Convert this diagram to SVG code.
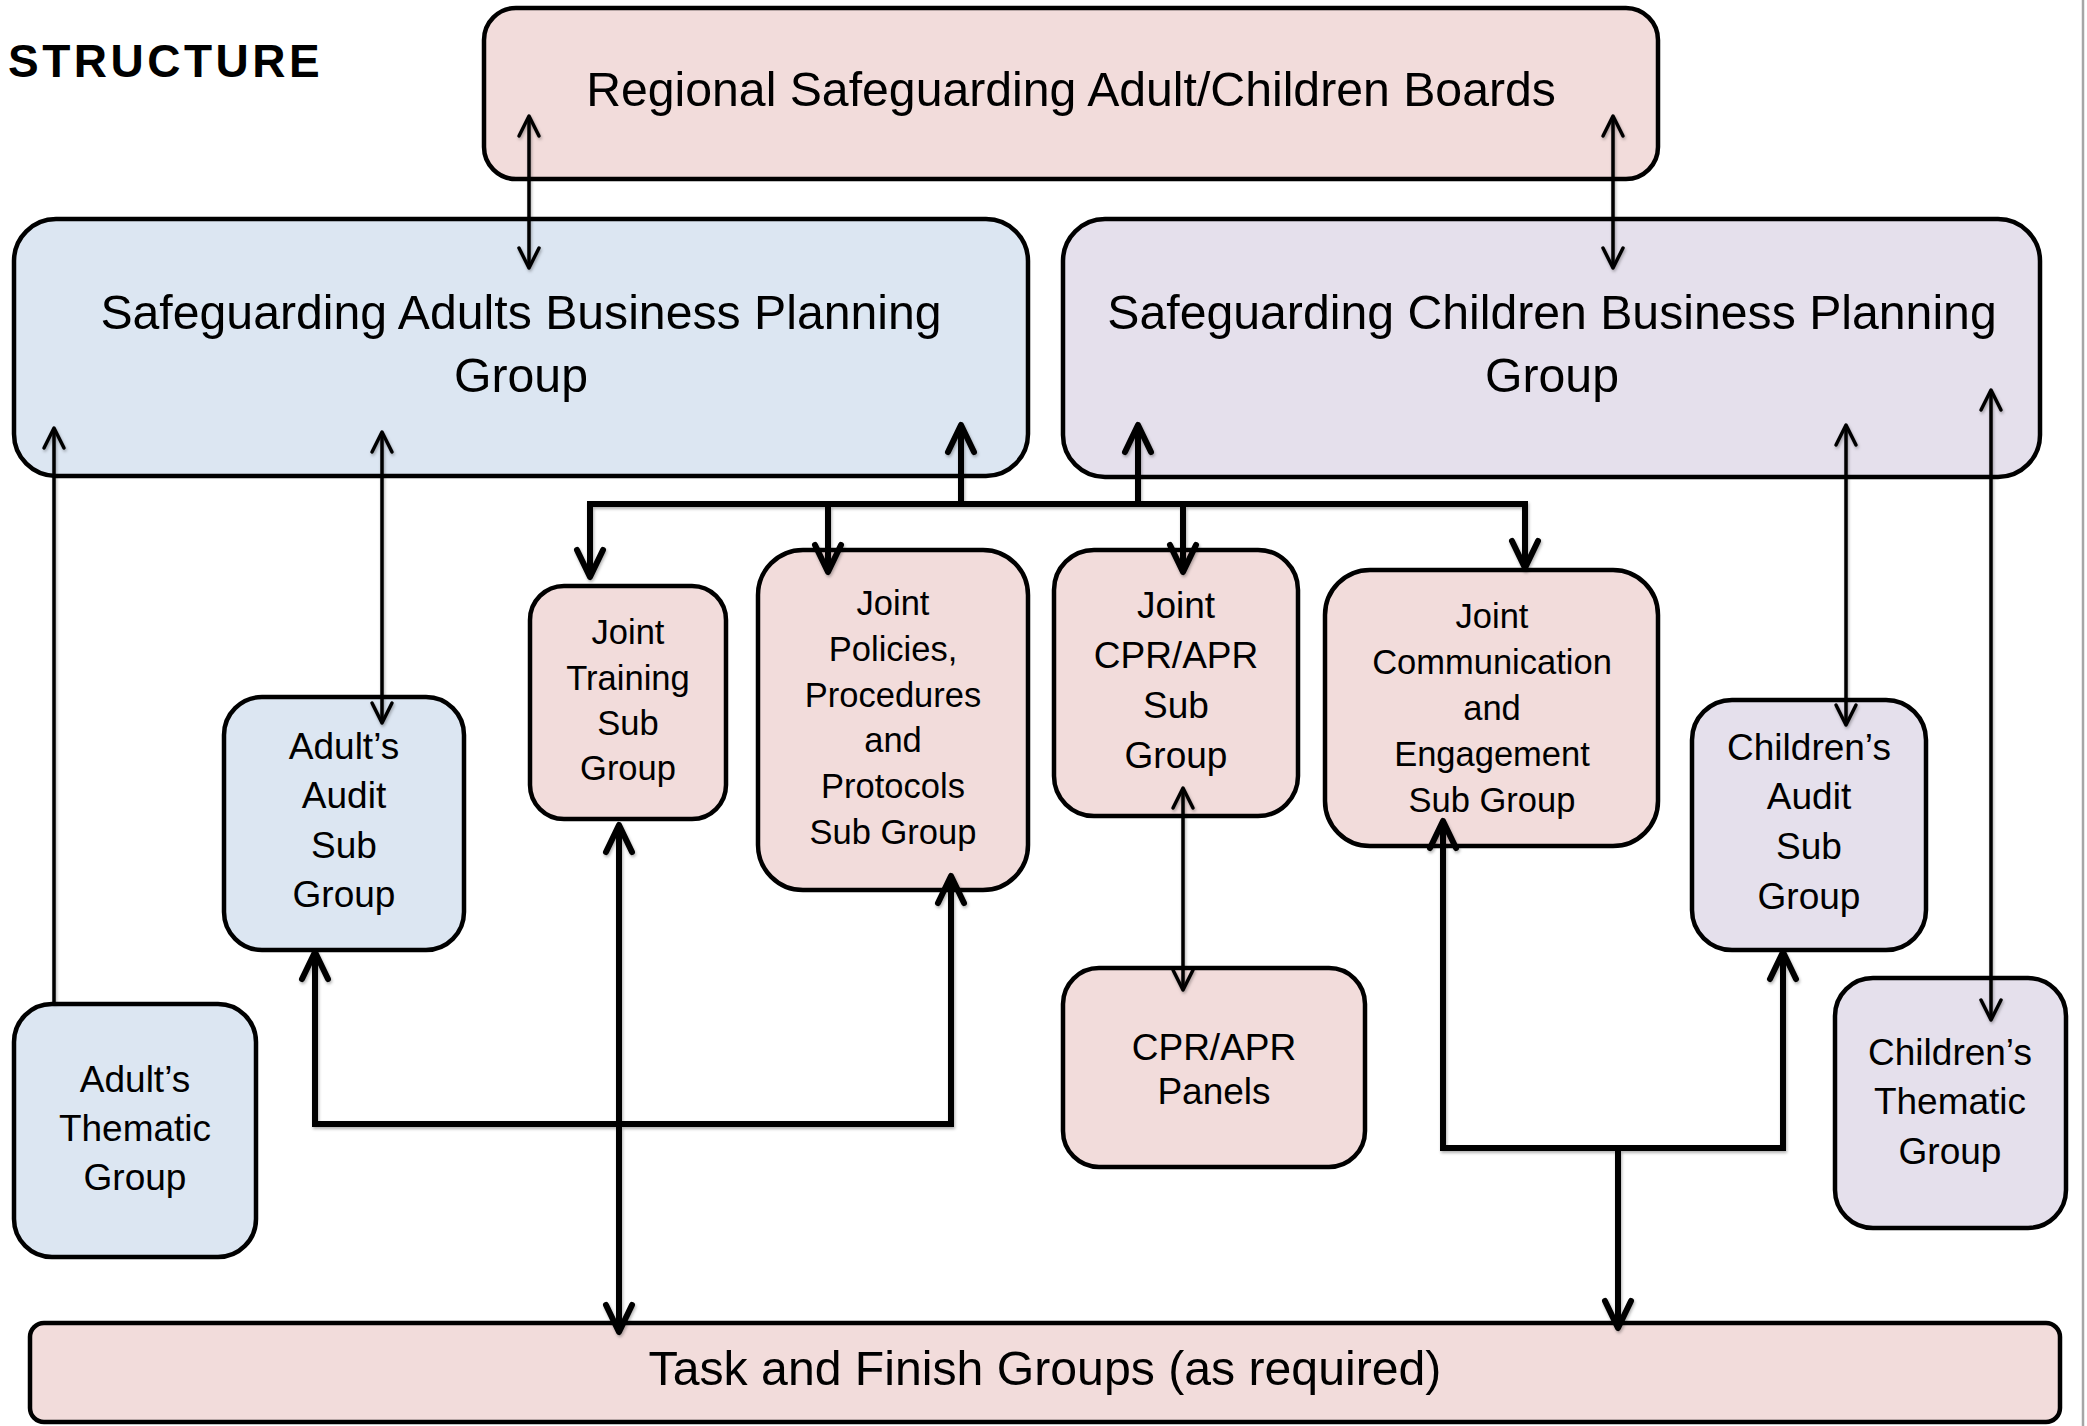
<svg xmlns="http://www.w3.org/2000/svg" width="2087" height="1426" viewBox="0 0 2087 1426">
<defs>
<style>
.box{stroke:#000;stroke-width:4.5}
.pink{fill:#F2DCDB}
.blue{fill:#DCE6F2}
.purple{fill:#E5E0EC}
.t{font-family:"Liberation Sans",Arial,Helvetica,sans-serif;fill:#000;text-anchor:middle}
.big{font-size:48.2px}
.mid{font-size:37px}
.sm{font-size:34.5px}
.thin{fill:none;stroke:#000;stroke-width:3.5;marker-start:url(#thinHead);marker-end:url(#thinHead)}
.thick{fill:none;stroke:#000;stroke-width:6;stroke-linejoin:miter;marker-start:url(#thickHead);marker-end:url(#thickHead)}
.endonly{marker-start:none}
</style>
<marker id="thinHead" markerUnits="userSpaceOnUse" viewBox="-26 -16 32 32" markerWidth="32" markerHeight="32" refX="0" refY="0" orient="auto-start-reverse" overflow="visible">
<path d="M-20,-10 L0,0 L-20,10" fill="none" stroke="#000" stroke-width="3.5" stroke-linecap="round" stroke-linejoin="round"/>
</marker>
<marker id="thickHead" markerUnits="userSpaceOnUse" viewBox="-34 -20 40 40" markerWidth="40" markerHeight="40" refX="0" refY="0" orient="auto-start-reverse" overflow="visible">
<path d="M-27,-13 L0,0 L-27,13" fill="none" stroke="#000" stroke-width="6" stroke-linecap="round" stroke-linejoin="round"/>
</marker>
<filter id="sh" x="-10%" y="-10%" width="120%" height="120%">
<feDropShadow dx="1" dy="2" stdDeviation="1.5" flood-color="#000" flood-opacity="0.3"/>
</filter>
</defs>
<rect x="0" y="0" width="2087" height="1426" fill="#fff"/>
<line x1="2083" y1="0" x2="2083" y2="1426" stroke="#a6a6a6" stroke-width="2.5"/>
<text x="8" y="77" font-family="'Liberation Sans',Arial,sans-serif" font-weight="bold" font-size="46" letter-spacing="3.5" fill="#000">STRUCTURE</text>

<g id="regional-boards">
<rect class="box pink" x="484" y="8" width="1174" height="171" rx="32"/>
<text class="t big" x="1071" y="106">Regional Safeguarding Adult/Children Boards</text>
</g>
<g id="adults-bpg">
<rect class="box blue" x="14" y="219" width="1014" height="257" rx="42"/>
<text class="t big" x="521" y="329">Safeguarding Adults Business Planning</text>
<text class="t big" x="521" y="392">Group</text>
</g>
<g id="children-bpg">
<rect class="box purple" x="1063" y="219" width="977" height="258" rx="42"/>
<text class="t big" x="1552" y="329">Safeguarding Children Business Planning</text>
<text class="t big" x="1552" y="392">Group</text>
</g>
<g id="adults-audit">
<rect class="box blue" x="224" y="697" width="240" height="253" rx="38"/>
<text class="t mid" x="344" y="759">Adult’s</text>
<text class="t mid" x="344" y="808">Audit</text>
<text class="t mid" x="344" y="858">Sub</text>
<text class="t mid" x="344" y="907">Group</text>
</g>
<g id="joint-training">
<rect class="box pink" x="530" y="586" width="196" height="233" rx="34"/>
<text class="t sm" x="628" y="644">Joint</text>
<text class="t sm" x="628" y="690">Training</text>
<text class="t sm" x="628" y="735">Sub</text>
<text class="t sm" x="628" y="780">Group</text>
</g>
<g id="joint-policies">
<rect class="box pink" x="758" y="550" width="270" height="340" rx="45"/>
<text class="t sm" x="893" y="615">Joint</text>
<text class="t sm" x="893" y="661">Policies,</text>
<text class="t sm" x="893" y="707">Procedures</text>
<text class="t sm" x="893" y="752">and</text>
<text class="t sm" x="893" y="798">Protocols</text>
<text class="t sm" x="893" y="844">Sub Group</text>
</g>
<g id="joint-cpr-apr">
<rect class="box pink" x="1054" y="550" width="244" height="266" rx="40"/>
<text class="t mid" x="1176" y="618">Joint</text>
<text class="t mid" x="1176" y="668">CPR/APR</text>
<text class="t mid" x="1176" y="718">Sub</text>
<text class="t mid" x="1176" y="768">Group</text>
</g>
<g id="joint-communication">
<rect class="box pink" x="1325" y="570" width="333" height="276" rx="45"/>
<text class="t sm" x="1492" y="628">Joint</text>
<text class="t sm" x="1492" y="674">Communication</text>
<text class="t sm" x="1492" y="720">and</text>
<text class="t sm" x="1492" y="766">Engagement</text>
<text class="t sm" x="1492" y="812">Sub Group</text>
</g>
<g id="children-audit">
<rect class="box purple" x="1692" y="700" width="234" height="250" rx="40"/>
<text class="t mid" x="1809" y="760">Children’s</text>
<text class="t mid" x="1809" y="809">Audit</text>
<text class="t mid" x="1809" y="859">Sub</text>
<text class="t mid" x="1809" y="909">Group</text>
</g>
<g id="adults-thematic">
<rect class="box blue" x="14" y="1004" width="242" height="253" rx="38"/>
<text class="t mid" x="135" y="1092">Adult’s</text>
<text class="t mid" x="135" y="1141">Thematic</text>
<text class="t mid" x="135" y="1190">Group</text>
</g>
<g id="cpr-apr-panels">
<rect class="box pink" x="1063" y="968" width="302" height="199" rx="36"/>
<text class="t mid" x="1214" y="1060">CPR/APR</text>
<text class="t mid" x="1214" y="1104">Panels</text>
</g>
<g id="children-thematic">
<rect class="box purple" x="1835" y="978" width="231" height="250" rx="38"/>
<text class="t mid" x="1950" y="1065">Children’s</text>
<text class="t mid" x="1950" y="1114">Thematic</text>
<text class="t mid" x="1950" y="1164">Group</text>
</g>
<g id="task-finish">
<rect class="box pink" x="30" y="1323" width="2030" height="99" rx="14"/>
<text class="t big" x="1045" y="1385">Task and Finish Groups (as required)</text>
</g>

<g id="connectors" filter="url(#sh)">
<path class="thin" d="M529,116 V268"/>
<path class="thin" d="M1613,116 V268"/>
<path class="thin endonly" d="M54,1004 V428"/>
<path class="thin" d="M382,432 V723"/>
<path class="thin" d="M1846,425 V725"/>
<path class="thin" d="M1991,390 V1020"/>
<path class="thin" d="M1183,788 V990"/>
<path class="thick" d="M590,577 V504 H1525 V568"/>
<path class="thick endonly" d="M828,504 V572"/>
<path class="thick endonly" d="M1183,504 V572"/>
<path class="thick endonly" d="M961,504 V425"/>
<path class="thick endonly" d="M1138,504 V425"/>
<path class="thick" d="M619,825 V1332"/>
<path class="thick" d="M315,952 V1124 H951 V876"/>
<path class="thick" d="M1443,821 V1148 H1783 V952"/>
<path class="thick endonly" d="M1618,1148 V1328"/>
</g>
</svg>
